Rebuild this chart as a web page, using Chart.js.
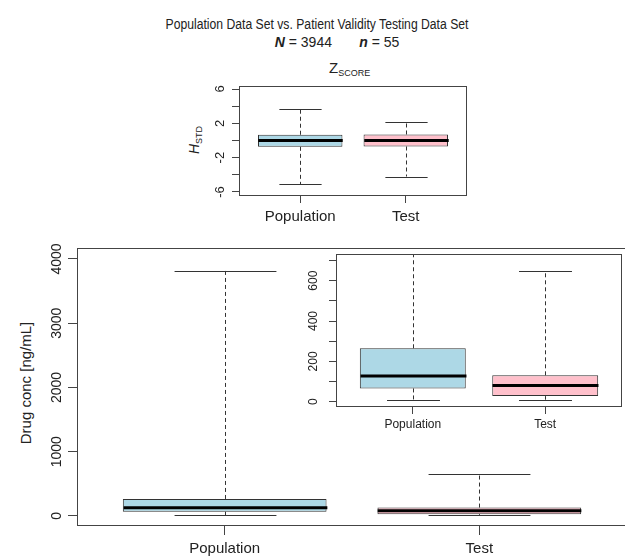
<!DOCTYPE html>
<html>
<head>
<meta charset="utf-8">
<script src="https://cdn.jsdelivr.net/npm/chart.js@4.4.1/dist/chart.umd.min.js"></script>
<style>
    body { margin: 0; background: #fff; }
    #page { position: relative; width: 625px; height: 557px; overflow: hidden; font-family: 'Liberation Sans', Arial, sans-serif; color: #222; }
    canvas { position: absolute; }
    .txt { position: absolute; white-space: nowrap; line-height: 1; }
    #title { left: 317px; top: 17px; font-size: 14px; transform: translateX(-50%) scaleX(0.87); }
    #counts { left: 337px; top: 35px; font-size: 14px; transform: translateX(-50%); }
    #zlabel { left: 329px; top: 60px; font-size: 15px; }
    #zlabel sub, #hlabel sub { font-size: 9px; vertical-align: -3px; }
    #hlabel { left: 195px; top: 140px; font-size: 14px; transform: translate(-50%, -50%) rotate(-90deg); }
    #ylabel { left: 25px; top: 383px; font-size: 15px; transform: translate(-50%, -50%) rotate(-90deg); }
</style>
</head>
<body>
<div id="page">
    <div class="txt" id="title">Population Data Set vs. Patient Validity Testing Data Set</div>
    <div class="txt" id="counts"><b><i>N</i></b> = 3944&nbsp;&nbsp;&nbsp;&nbsp;&nbsp;&nbsp;&nbsp;<b><i>n</i></b> = 55</div>
    <div class="txt" id="zlabel">Z<sub>SCORE</sub></div>
    <div class="txt" id="hlabel"><i>H</i><sub>STD</sub></div>
    <div class="txt" id="ylabel">Drug conc [ng/mL]</div>
    <canvas id="zChart" width="300" height="150" style="left:180px;top:80px"></canvas>
    <canvas id="mainChart" width="632" height="317" style="left:0px;top:240px"></canvas>
    <canvas id="insetChart" width="325" height="192" style="left:300px;top:250px"></canvas>
</div>
<script>
// groupes
const groups = ['Population', 'Test'];
const groupPos = [1, 2];
const boxColors = ['#add8e6', '#ffc0cb'];

// Z score (H_STD)
const zLow = [-5.1, -4.2];
const zQ1 = [-0.74, -0.7];
const zMedian = [0, 0];
const zQ3 = [0.67, 0.7];
const zHigh = [3.7, 2.1];
const zTicks = [-6, -4, -2, 0, 2, 4, 6];
const zTickLabels = ['-6', '', '-2', '', '2', '', '6'];

// concentration (ng/mL)
const concLow = [10, 10];
const concQ1 = [66, 28];
const concMedian = [128, 80];
const concQ3 = [265, 131];
const concHigh = [3820, 650];
const concTicks = [0, 1000, 2000, 3000, 4000];
const concTickLabels = ['0', '1000', '2000', '3000', '4000'];
const insetTicks = [0, 100, 200, 300, 400, 500, 600, 700];
const insetTickLabels = ['0', '', '200', '', '400', '', '600', ''];

const INK = '#222';
const FRAME = '#444';

// whiskers, medians, frame and tick labels (R boxplot look)
const boxExtras = {
    id: 'boxExtras',
    beforeDraw(chart, args, o) {
        if (!o.background) return;
        const c = chart.ctx;
        c.save();
        c.fillStyle = o.background;
        c.fillRect(0, 0, chart.width, chart.height);
        c.restore();
    },
    afterDatasetsDraw(chart, args, o) {
        const { ctx, chartArea: a, scales: { x, y } } = chart;
        const bars = chart.getDatasetMeta(0).data;
        const line = (x1, y1, x2, y2) => {
            ctx.beginPath();
            ctx.moveTo(x1, y1);
            ctx.lineTo(x2, y2);
            ctx.stroke();
        };
        ctx.save();
        ctx.beginPath();
        ctx.rect(a.left, a.top, a.right - a.left, a.bottom - a.top);
        ctx.clip();
        o.positions.forEach((pos, i) => {
            const cx = Math.round(x.getPixelForValue(pos)) + 0.5;
            const w = bars[i].width;
            const yLow = y.getPixelForValue(o.low[i]);
            const yQ1 = y.getPixelForValue(o.q1[i]);
            const yMed = y.getPixelForValue(o.median[i]);
            const yQ3 = y.getPixelForValue(o.q3[i]);
            const yHigh = y.getPixelForValue(o.high[i]);
            ctx.strokeStyle = '#333';
            ctx.lineWidth = 1;
            ctx.setLineDash([4, 3]);
            line(cx, yQ3, cx, yHigh);
            line(cx, yQ1, cx, yLow);
            ctx.setLineDash([]);
            line(cx - w / 4, Math.round(yHigh) + 0.5, cx + w / 4, Math.round(yHigh) + 0.5);
            line(cx - w / 4, Math.round(yLow) + 0.5, cx + w / 4, Math.round(yLow) + 0.5);
            ctx.strokeStyle = '#000';
            ctx.lineWidth = o.medianWidth;
            line(cx - w / 2, yMed, cx + w / 2, yMed);
        });
        ctx.restore();
    },
    afterDraw(chart, args, o) {
        const { ctx, chartArea: a, scales: { x, y } } = chart;
        ctx.save();
        ctx.strokeStyle = FRAME;
        ctx.lineWidth = 1;
        ctx.strokeRect(a.left + 0.5, a.top + 0.5, a.right - a.left - 1, a.bottom - a.top - 1);

        ctx.fillStyle = INK;
        ctx.font = o.yFont + "px 'Liberation Sans', Arial, sans-serif";
        o.yTicks.forEach((v, i) => {
            if (!o.yLabels[i]) return;
            ctx.save();
            ctx.translate(a.left - o.tickLen - o.yPad, y.getPixelForValue(v));
            ctx.rotate(-Math.PI / 2);
            ctx.textAlign = 'center';
            ctx.textBaseline = 'bottom';
            ctx.fillText(o.yLabels[i], 0, 0);
            ctx.restore();
        });
        ctx.font = o.xFont + "px 'Liberation Sans', Arial, sans-serif";
        ctx.textAlign = 'center';
        ctx.textBaseline = 'top';
        o.positions.forEach((pos, i) => {
            ctx.fillText(groups[i], x.getPixelForValue(pos), a.bottom + o.tickLen + o.xPad);
        });
        ctx.restore();
    }
};

function createBoxChart(canvasId, s) {
    const ctx = document.getElementById(canvasId).getContext('2d');

    return new Chart(ctx, {
        type: 'bar',
        data: {
            datasets: [{
                data: groupPos.map((p, i) => ({ x: p, y: [s.q1[i], s.q3[i]] })),
                backgroundColor: boxColors,
                borderColor: '#333',
                borderWidth: 1,
                borderSkipped: false,
                barPercentage: 0.8,
                categoryPercentage: 1
            }]
        },
        options: {
            responsive: false,
            animation: false,
            layout: { padding: s.padding },
            plugins: {
                legend: { display: false },
                tooltip: { enabled: false },
                boxExtras: {
                    positions: groupPos,
                    low: s.low, q1: s.q1, median: s.median, q3: s.q3, high: s.high,
                    medianWidth: s.medianWidth,
                    tickLen: s.tickLen,
                    yTicks: s.yTicks, yLabels: s.yLabels,
                    yFont: s.yFont, xFont: s.xFont,
                    yPad: s.yPad, xPad: s.xPad,
                    background: s.background
                }
            },
            scales: {
                x: {
                    type: 'linear',
                    min: 0.42,
                    max: 2.58,
                    offset: false,
                    afterBuildTicks: (axis) => { axis.ticks = groupPos.map(v => ({ value: v })); },
                    ticks: { display: false },
                    border: { display: false },
                    grid: { offset: false, drawOnChartArea: false, tickLength: s.tickLen, color: FRAME }
                },
                y: {
                    min: s.yMin,
                    max: s.yMax,
                    afterBuildTicks: (axis) => { axis.ticks = s.yTicks.map(v => ({ value: v })); },
                    ticks: { display: false },
                    border: { display: false },
                    grid: { drawOnChartArea: false, tickLength: s.tickLen, color: FRAME }
                }
            }
        },
        plugins: [boxExtras]
    });
}

createBoxChart('zChart', {
    low: zLow, q1: zQ1, median: zMedian, q3: zQ3, high: zHigh,
    yMin: -6.47, yMax: 6.35,
    yTicks: zTicks, yLabels: zTickLabels,
    padding: { left: 52, top: 6, right: 13, bottom: 27 },
    tickLen: 7, yFont: 13, xFont: 15, yPad: 5, xPad: 6,
    medianWidth: 3
});

// canvas a bit wider than the page so the right edge of the frame is cut off
createBoxChart('mainChart', {
    low: concLow, q1: concQ1, median: concMedian, q3: concQ3, high: concHigh,
    yMin: -156, yMax: 4171,
    yTicks: concTicks, yLabels: concTickLabels,
    padding: { left: 68, top: 8, right: 5, bottom: 22 },
    tickLen: 9, yFont: 14, xFont: 15, yPad: 4, xPad: 6,
    medianWidth: 3
});

createBoxChart('insetChart', {
    low: concLow, q1: concQ1, median: concMedian, q3: concQ3, high: concHigh,
    yMin: -26, yMax: 732,
    yTicks: insetTicks, yLabels: insetTickLabels,
    padding: { left: 29, top: 4, right: 3, bottom: 28 },
    tickLen: 7, yFont: 12, xFont: 12, yPad: 9, xPad: 5,
    medianWidth: 3,
    background: '#fff'
});
</script>
</body>
</html>
